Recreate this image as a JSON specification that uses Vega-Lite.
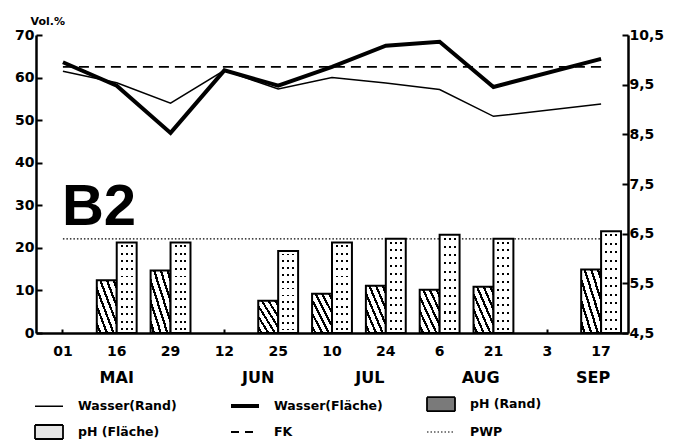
{
  "$schema": "https://vega.github.io/schema/vega-lite/v6.json",
  "width": 592,
  "height": 298,
  "autosize": "none",
  "padding": {"left": 36, "top": 35, "right": 47, "bottom": 108},
  "background": "white",
  "config": {
    "view": {"stroke": null},
    "font": "DejaVu Sans",
    "axis": {
      "domainColor": "black", "domainWidth": 2.5, "tickColor": "black", "tickWidth": 2,
      "labelFont": "DejaVu Sans", "labelFontWeight": "bold", "labelFontSize": 14, "labelColor": "black",
      "grid": false
    },
    "legend": {
      "orient": "none", "legendX": -3, "legendY": 354, "columns": 3, "direction": "horizontal", "gridAlign": "all",
      "columnPadding": 36, "rowPadding": 2, "padding": 0,
      "labelFont": "DejaVu Sans", "labelFontWeight": "bold", "labelFontSize": 12.5, "labelColor": "black",
      "labelOffset": 13, "symbolSize": 784, "symbolOpacity": 1, "labelLimit": 0, "title": null
    }
  },
  "datasets": {
    "wasser": [
      {"d": "01", "rand": 61.5, "flaeche": 63.6},
      {"d": "16", "rand": 58.8, "flaeche": 58.1},
      {"d": "29", "rand": 54.0, "flaeche": 47.0},
      {"d": "12", "rand": 61.7, "flaeche": 61.7},
      {"d": "25", "rand": 57.3, "flaeche": 58.1},
      {"d": "10", "rand": 60.0, "flaeche": 62.5},
      {"d": "24", "rand": 58.7, "flaeche": 67.5},
      {"d": "6", "rand": 57.2, "flaeche": 68.4},
      {"d": "21", "rand": 50.9, "flaeche": 57.8},
      {"d": "17", "rand": 53.8, "flaeche": 64.4}
    ],
    "ref": [
      {"d": "01", "fk": 62.5, "pwp": 22.1},
      {"d": "17", "fk": 62.5, "pwp": 22.1}
    ],
    "ph": [
      {"d": "16", "kind": "Rand", "ph": 5.56}, {"d": "16", "kind": "Fläche", "ph": 6.32},
      {"d": "29", "kind": "Rand", "ph": 5.76}, {"d": "29", "kind": "Fläche", "ph": 6.32},
      {"d": "25", "kind": "Rand", "ph": 5.15}, {"d": "25", "kind": "Fläche", "ph": 6.15},
      {"d": "10", "kind": "Rand", "ph": 5.29}, {"d": "10", "kind": "Fläche", "ph": 6.32},
      {"d": "24", "kind": "Rand", "ph": 5.45}, {"d": "24", "kind": "Fläche", "ph": 6.40},
      {"d": "6", "kind": "Rand", "ph": 5.37}, {"d": "6", "kind": "Fläche", "ph": 6.48},
      {"d": "21", "kind": "Rand", "ph": 5.43}, {"d": "21", "kind": "Fläche", "ph": 6.40},
      {"d": "17", "kind": "Rand", "ph": 5.78}, {"d": "17", "kind": "Fläche", "ph": 6.55}
    ],
    "labels": [
      {"t": "B2"}, {"t": "MAI"}, {"t": "JUN"}, {"t": "JUL"}, {"t": "AUG"}, {"t": "SEP"}
    ],
    "legendItems": [
      {"series": "Wasser(Rand)"}, {"series": "Wasser(Fläche)"}, {"series": "pH (Rand)"},
      {"series": "pH (Fläche)"}, {"series": "FK"}, {"series": "PWP"}
    ]
  },
  "layer": [
    {
      "layer": [
        {
          "data": {"name": "ref"},
          "mark": {"type": "line", "color": "black", "strokeWidth": 1.2, "strokeDash": [1.5, 2]},
          "encoding": {
            "x": {"field": "d", "type": "ordinal", "scale": {"domain": ["01","16","29","12","25","10","24","6","21","3","17"], "paddingInner": 0, "paddingOuter": 0},
                  "axis": {"title": null, "labelAngle": 0, "tickSize": -4, "labelPadding": 15}},
            "y": {"field": "pwp", "type": "quantitative", "scale": {"domain": [0, 70]},
                  "axis": {"values": [0,10,20,30,40,50,60,70], "tickSize": -6, "labelPadding": 8,
                           "title": "Vol.%", "titleAngle": 0, "titleAlign": "left", "titleBaseline": "alphabetic",
                           "titleX": -6, "titleY": -11, "titleFont": "DejaVu Sans", "titleFontSize": 11, "titleFontWeight": "bold", "titleColor": "black"}}
          }
        },
        {
          "data": {"name": "ref"},
          "mark": {"type": "line", "color": "black", "strokeWidth": 1.8, "strokeDash": [10, 6]},
          "encoding": {
            "x": {"field": "d", "type": "ordinal"},
            "y": {"field": "fk", "type": "quantitative"}
          }
        },
        {
          "data": {"name": "wasser"},
          "mark": {"type": "line", "color": "black", "strokeWidth": 1.5},
          "encoding": {
            "x": {"field": "d", "type": "ordinal"},
            "y": {"field": "rand", "type": "quantitative"}
          }
        },
        {
          "data": {"name": "wasser"},
          "mark": {"type": "line", "color": "black", "strokeWidth": 4},
          "encoding": {
            "x": {"field": "d", "type": "ordinal"},
            "y": {"field": "flaeche", "type": "quantitative"}
          }
        },
        {
          "data": {"name": "labels"},
          "transform": [{"filter": "datum.t === 'B2'"}],
          "mark": {"type": "text", "font": "Liberation Sans", "fontWeight": "bold", "fontSize": 58, "align": "left", "baseline": "alphabetic", "dx": -1, "color": "black"},
          "encoding": {"x": {"datum": "01"}, "y": {"datum": 25.4}, "text": {"field": "t"}}
        },
        {
          "data": {"name": "labels"},
          "transform": [{"filter": "datum.t === 'MAI'"}],
          "mark": {"type": "text", "fontWeight": "bold", "fontSize": 16, "baseline": "middle", "color": "black", "dx": 0},
          "encoding": {"x": {"datum": "16"}, "y": {"datum": -10.5}, "text": {"field": "t"}}
        },
        {
          "data": {"name": "labels"},
          "transform": [{"filter": "datum.t === 'JUN'"}],
          "mark": {"type": "text", "fontWeight": "bold", "fontSize": 16, "baseline": "middle", "color": "black", "dx": -20},
          "encoding": {"x": {"datum": "25"}, "y": {"datum": -10.5}, "text": {"field": "t"}}
        },
        {
          "data": {"name": "labels"},
          "transform": [{"filter": "datum.t === 'JUL'"}],
          "mark": {"type": "text", "fontWeight": "bold", "fontSize": 16, "baseline": "middle", "color": "black", "dx": -16},
          "encoding": {"x": {"datum": "24"}, "y": {"datum": -10.5}, "text": {"field": "t"}}
        },
        {
          "data": {"name": "labels"},
          "transform": [{"filter": "datum.t === 'AUG'"}],
          "mark": {"type": "text", "fontWeight": "bold", "fontSize": 16, "baseline": "middle", "color": "black", "dx": 41},
          "encoding": {"x": {"datum": "6"}, "y": {"datum": -10.5}, "text": {"field": "t"}}
        },
        {
          "data": {"name": "labels"},
          "transform": [{"filter": "datum.t === 'SEP'"}],
          "mark": {"type": "text", "fontWeight": "bold", "fontSize": 16, "baseline": "middle", "color": "black", "dx": -8},
          "encoding": {"x": {"datum": "17"}, "y": {"datum": -10.5}, "text": {"field": "t"}}
        }
      ]
    },
    {
      "data": {"name": "ph"},
      "encoding": {
        "x": {"field": "d", "type": "ordinal"},
        "xOffset": {"field": "kind", "type": "nominal", "scale": {"domain": ["Rand", "Fläche"], "paddingInner": 0, "paddingOuter": 0.35}},
        "y": {"field": "ph", "type": "quantitative", "scale": {"domain": [4.5, 10.5], "zero": false},
              "axis": {"orient": "right", "title": null, "values": [4.5,5.5,6.5,7.5,8.5,9.5,10.5], "tickSize": -6, "labelPadding": 7,
                       "labelExpr": "replace(format(datum.value, '.1f'), '.', ',')"}},
        "y2": {"datum": 4.5}
      },
      "layer": [
        {
          "transform": [{"filter": "datum.kind === 'Rand'"}],
          "mark": {"type": "bar", "stroke": "black", "strokeWidth": 2,
            "fill": {"gradient": "linear", "x1": 0, "y1": 1, "x2": 1, "y2": 0, "stops": [
              {"offset": 0, "color": "white"},
              {"offset": 0.058, "color": "white"}, {"offset": 0.058, "color": "black"}, {"offset": 0.117, "color": "black"}, {"offset": 0.117, "color": "white"},
              {"offset": 0.225, "color": "white"}, {"offset": 0.225, "color": "black"}, {"offset": 0.283, "color": "black"}, {"offset": 0.283, "color": "white"},
              {"offset": 0.392, "color": "white"}, {"offset": 0.392, "color": "black"}, {"offset": 0.45, "color": "black"}, {"offset": 0.45, "color": "white"},
              {"offset": 0.558, "color": "white"}, {"offset": 0.558, "color": "black"}, {"offset": 0.617, "color": "black"}, {"offset": 0.617, "color": "white"},
              {"offset": 0.725, "color": "white"}, {"offset": 0.725, "color": "black"}, {"offset": 0.783, "color": "black"}, {"offset": 0.783, "color": "white"},
              {"offset": 0.892, "color": "white"}, {"offset": 0.892, "color": "black"}, {"offset": 0.95, "color": "black"}, {"offset": 0.95, "color": "white"},
              {"offset": 1, "color": "white"}
            ]}}
        },
        {
          "transform": [{"filter": "datum.kind === 'Fläche'"}],
          "mark": {"type": "bar", "fill": "white", "strokeWidth": 0}
        },
        {
          "transform": [{"filter": "datum.kind === 'Fläche'"}],
          "mark": {"type": "bar", "strokeWidth": 0,
            "fill": {"gradient": "linear", "x1": 0, "y1": 0, "x2": 1, "y2": 0, "stops": [
              {"offset": 0, "color": "rgba(0,0,0,0)"}, {"offset": 0.2, "color": "rgba(0,0,0,0)"}, {"offset": 0.2, "color": "black"}, {"offset": 0.3, "color": "black"}, {"offset": 0.3, "color": "rgba(0,0,0,0)"},
              {"offset": 0.45, "color": "rgba(0,0,0,0)"}, {"offset": 0.45, "color": "black"}, {"offset": 0.55, "color": "black"}, {"offset": 0.55, "color": "rgba(0,0,0,0)"},
              {"offset": 0.7, "color": "rgba(0,0,0,0)"}, {"offset": 0.7, "color": "black"}, {"offset": 0.8, "color": "black"}, {"offset": 0.8, "color": "rgba(0,0,0,0)"},
              {"offset": 1, "color": "rgba(0,0,0,0)"}
            ]}}
        },
        {
          "transform": [{"filter": "datum.kind === 'Fläche'"}],
          "mark": {"type": "bar", "stroke": "black", "strokeWidth": 2,
            "fill": {"gradient": "linear", "x1": 0, "y1": 0, "x2": 0, "y2": 1, "stops": [
              {"offset": 0, "color": "white"},
              {"offset": 0.0313, "color": "white"}, {"offset": 0.0313, "color": "rgba(255,255,255,0)"}, {"offset": 0.0521, "color": "rgba(255,255,255,0)"}, {"offset": 0.0521, "color": "white"},
              {"offset": 0.1146, "color": "white"}, {"offset": 0.1146, "color": "rgba(255,255,255,0)"}, {"offset": 0.1354, "color": "rgba(255,255,255,0)"}, {"offset": 0.1354, "color": "white"},
              {"offset": 0.1979, "color": "white"}, {"offset": 0.1979, "color": "rgba(255,255,255,0)"}, {"offset": 0.2188, "color": "rgba(255,255,255,0)"}, {"offset": 0.2188, "color": "white"},
              {"offset": 0.2813, "color": "white"}, {"offset": 0.2813, "color": "rgba(255,255,255,0)"}, {"offset": 0.3021, "color": "rgba(255,255,255,0)"}, {"offset": 0.3021, "color": "white"},
              {"offset": 0.3646, "color": "white"}, {"offset": 0.3646, "color": "rgba(255,255,255,0)"}, {"offset": 0.3854, "color": "rgba(255,255,255,0)"}, {"offset": 0.3854, "color": "white"},
              {"offset": 0.4479, "color": "white"}, {"offset": 0.4479, "color": "rgba(255,255,255,0)"}, {"offset": 0.4688, "color": "rgba(255,255,255,0)"}, {"offset": 0.4688, "color": "white"},
              {"offset": 0.5313, "color": "white"}, {"offset": 0.5313, "color": "rgba(255,255,255,0)"}, {"offset": 0.5521, "color": "rgba(255,255,255,0)"}, {"offset": 0.5521, "color": "white"},
              {"offset": 0.6146, "color": "white"}, {"offset": 0.6146, "color": "rgba(255,255,255,0)"}, {"offset": 0.6354, "color": "rgba(255,255,255,0)"}, {"offset": 0.6354, "color": "white"},
              {"offset": 0.6979, "color": "white"}, {"offset": 0.6979, "color": "rgba(255,255,255,0)"}, {"offset": 0.7188, "color": "rgba(255,255,255,0)"}, {"offset": 0.7188, "color": "white"},
              {"offset": 0.7813, "color": "white"}, {"offset": 0.7813, "color": "rgba(255,255,255,0)"}, {"offset": 0.8021, "color": "rgba(255,255,255,0)"}, {"offset": 0.8021, "color": "white"},
              {"offset": 0.8646, "color": "white"}, {"offset": 0.8646, "color": "rgba(255,255,255,0)"}, {"offset": 0.8854, "color": "rgba(255,255,255,0)"}, {"offset": 0.8854, "color": "white"},
              {"offset": 0.9479, "color": "white"}, {"offset": 0.9479, "color": "rgba(255,255,255,0)"}, {"offset": 0.9688, "color": "rgba(255,255,255,0)"}, {"offset": 0.9688, "color": "white"},
              {"offset": 1, "color": "white"}
            ]}}
        }
      ]
    },
    {
      "data": {"name": "legendItems"},
      "mark": {"type": "point", "opacity": 0, "filled": true},
      "encoding": {
        "shape": {"field": "series", "type": "nominal", "scale": {"domain": ["Wasser(Rand)","Wasser(Fläche)","pH (Rand)","pH (Fläche)","FK","PWP"],
          "range": ["M-1,0H1","M-1,0H1","M-1,-0.5H1V0.5H-1Z","M-1,-0.5H1V0.5H-1Z","M-1,0H1","M-1,0H1"]},
          "legend": {"title": null, "encode": {"symbols": {"fill": {"value": {"expr": "datum.value === 'pH (Rand)' ? {gradient: 'linear', x1: 0, y1: 1, x2: 1, y2: 0, stops: [{offset: 0, color: 'white'}, {offset: 0.06, color: 'white'}, {offset: 0.06, color: 'black'}, {offset: 0.15, color: 'black'}, {offset: 0.15, color: 'white'}, {offset: 0.26, color: 'white'}, {offset: 0.26, color: 'black'}, {offset: 0.35, color: 'black'}, {offset: 0.35, color: 'white'}, {offset: 0.46, color: 'white'}, {offset: 0.46, color: 'black'}, {offset: 0.55, color: 'black'}, {offset: 0.55, color: 'white'}, {offset: 0.66, color: 'white'}, {offset: 0.66, color: 'black'}, {offset: 0.75, color: 'black'}, {offset: 0.75, color: 'white'}, {offset: 0.86, color: 'white'}, {offset: 0.86, color: 'black'}, {offset: 0.95, color: 'black'}, {offset: 0.95, color: 'white'}, {offset: 1, color: 'white'}]} : datum.value === 'pH (Fläche)' ? '#e6e6e6' : 'transparent'"}}}}}},
        "fill": {"field": "series", "type": "nominal", "scale": {"domain": ["Wasser(Rand)","Wasser(Fläche)","pH (Rand)","pH (Fläche)","FK","PWP"],
          "range": ["transparent","transparent","#7a7a7a","#e6e6e6","transparent","transparent"]},
          "legend": {"title": null, "encode": {"symbols": {"fill": {"value": {"expr": "datum.value === 'pH (Rand)' ? {gradient: 'linear', x1: 0, y1: 1, x2: 1, y2: 0, stops: [{offset: 0, color: 'white'}, {offset: 0.06, color: 'white'}, {offset: 0.06, color: 'black'}, {offset: 0.15, color: 'black'}, {offset: 0.15, color: 'white'}, {offset: 0.26, color: 'white'}, {offset: 0.26, color: 'black'}, {offset: 0.35, color: 'black'}, {offset: 0.35, color: 'white'}, {offset: 0.46, color: 'white'}, {offset: 0.46, color: 'black'}, {offset: 0.55, color: 'black'}, {offset: 0.55, color: 'white'}, {offset: 0.66, color: 'white'}, {offset: 0.66, color: 'black'}, {offset: 0.75, color: 'black'}, {offset: 0.75, color: 'white'}, {offset: 0.86, color: 'white'}, {offset: 0.86, color: 'black'}, {offset: 0.95, color: 'black'}, {offset: 0.95, color: 'white'}, {offset: 1, color: 'white'}]} : datum.value === 'pH (Fläche)' ? '#e6e6e6' : 'transparent'"}}}}}},
        "strokeDash": {"field": "series", "type": "nominal", "scale": {"domain": ["Wasser(Rand)","Wasser(Fläche)","pH (Rand)","pH (Fläche)","FK","PWP"],
          "range": [[1,0],[1,0],[1,0],[1,0],[8,6],[1.5,2]]}, "legend": {"title": null}},
        "strokeWidth": {"field": "series", "type": "nominal", "scale": {"type": "ordinal", "domain": ["Wasser(Rand)","Wasser(Fläche)","pH (Rand)","pH (Fläche)","FK","PWP"],
          "range": [1.5,4,1.8,1.8,1.8,1.2]}, "legend": {"title": null}},
        "stroke": {"value": "black"}
      }
    }
  ],
  "resolve": {"scale": {"y": "independent"}}
}
